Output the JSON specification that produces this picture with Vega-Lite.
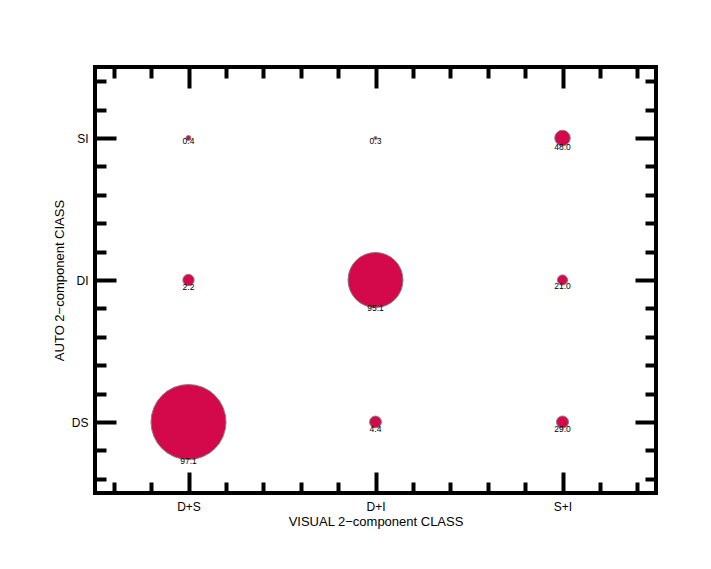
{
  "$schema": "https://vega.github.io/schema/vega-lite/v6.json",
  "width": 561,
  "height": 426,
  "autosize": {"type": "none"},
  "padding": {"left": 95, "top": 67, "right": 55, "bottom": 76},
  "background": "white",
  "config": {
    "font": "Liberation Sans",
    "view": {"stroke": "black", "strokeWidth": 4},
    "axis": {"domain": false, "grid": false, "tickColor": "black", "tickWidth": 4, "labelColor": "black", "titleColor": "black", "labelFontSize": 12, "titleFontSize": 13, "titleFontWeight": "normal"}
  },
  "data": {
    "values": [
      {"visual": "D+S", "auto": "DS", "vx": 1, "ay": 1, "pct": 97.1, "count": 1406},
      {"visual": "D+S", "auto": "DI", "vx": 1, "ay": 2, "pct": 2.2, "count": 32},
      {"visual": "D+S", "auto": "SI", "vx": 1, "ay": 3, "pct": 0.4, "count": 6},
      {"visual": "D+I", "auto": "DS", "vx": 2, "ay": 1, "pct": 4.4, "count": 35},
      {"visual": "D+I", "auto": "DI", "vx": 2, "ay": 2, "pct": 95.1, "count": 756},
      {"visual": "D+I", "auto": "SI", "vx": 2, "ay": 3, "pct": 0.3, "count": 2.4},
      {"visual": "S+I", "auto": "DS", "vx": 3, "ay": 1, "pct": 29.0, "count": 36},
      {"visual": "S+I", "auto": "DI", "vx": 3, "ay": 2, "pct": 21.0, "count": 26},
      {"visual": "S+I", "auto": "SI", "vx": 3, "ay": 3, "pct": 48.0, "count": 60}
    ]
  },
  "resolve": {"axis": {"x": "independent", "y": "independent"}},
  "layer": [
    {
      "mark": {"type": "circle", "fill": "#D4094B", "stroke": "#808080", "strokeWidth": 1, "opacity": 1},
      "encoding": {
        "x": {"field": "vx", "type": "quantitative", "scale": {"domain": [0.5, 3.5], "nice": false, "zero": false},
          "axis": {"orient": "bottom", "values": [1, 2, 3], "ticks": false, "tickSize": 0, "labelPadding": 8, "labelExpr": "datum.value == 1 ? 'D+S' : datum.value == 2 ? 'D+I' : 'S+I'", "title": "VISUAL 2−component CLASS", "titleY": 22, "titleBaseline": "top"}},
        "y": {"field": "ay", "type": "quantitative", "scale": {"domain": [0.5, 3.5], "nice": false, "zero": false},
          "axis": {"orient": "left", "values": [1, 2, 3], "ticks": false, "tickSize": 0, "labelPadding": 7, "labelExpr": "datum.value == 1 ? 'DS' : datum.value == 2 ? 'DI' : 'SI'", "title": "AUTO 2−component CIASS", "titleX": -29}},
        "size": {"field": "count", "type": "quantitative", "scale": {"domain": [0, 1406], "range": [0, 5625]}, "legend": null}
      }
    },
    {
      "mark": {"type": "text", "baseline": "top", "align": "center", "fontSize": 8.5, "dy": {"expr": "sqrt(scale('size', datum.count)) / 2 - 3"}, "color": "#000"},
      "encoding": {
        "x": {"field": "vx", "type": "quantitative", "axis": {"orient": "bottom", "values": [1, 2, 3], "tickSize": -21, "labels": false, "title": null}},
        "y": {"field": "ay", "type": "quantitative", "axis": {"orient": "left", "values": [1, 2, 3], "tickSize": -21, "labels": false, "title": null}},
        "text": {"field": "pct", "type": "quantitative", "format": ".1f"}
      }
    },
    {
      "mark": {"type": "point", "opacity": 0},
      "encoding": {
        "x": {"field": "vx", "type": "quantitative", "axis": {"orient": "bottom", "values": [0.6, 0.8, 1.2, 1.4, 1.6, 1.8, 2.2, 2.4, 2.6, 2.8, 3.2, 3.4], "tickSize": -11, "labels": false, "title": null}},
        "y": {"field": "ay", "type": "quantitative", "axis": {"orient": "left", "values": [0.6, 0.8, 1.2, 1.4, 1.6, 1.8, 2.2, 2.4, 2.6, 2.8, 3.2, 3.4], "tickSize": -11, "labels": false, "title": null}}
      }
    },
    {
      "mark": {"type": "point", "opacity": 0},
      "encoding": {
        "x": {"field": "vx", "type": "quantitative", "axis": {"orient": "top", "values": [1, 2, 3], "tickSize": -21, "labels": false, "title": null}},
        "y": {"field": "ay", "type": "quantitative", "axis": {"orient": "right", "values": [1, 2, 3], "tickSize": -21, "labels": false, "title": null}}
      }
    },
    {
      "mark": {"type": "point", "opacity": 0},
      "encoding": {
        "x": {"field": "vx", "type": "quantitative", "axis": {"orient": "top", "values": [0.6, 0.8, 1.2, 1.4, 1.6, 1.8, 2.2, 2.4, 2.6, 2.8, 3.2, 3.4], "tickSize": -11, "labels": false, "title": null}},
        "y": {"field": "ay", "type": "quantitative", "axis": {"orient": "right", "values": [0.6, 0.8, 1.2, 1.4, 1.6, 1.8, 2.2, 2.4, 2.6, 2.8, 3.2, 3.4], "tickSize": -11, "labels": false, "title": null}}
      }
    }
  ]
}
